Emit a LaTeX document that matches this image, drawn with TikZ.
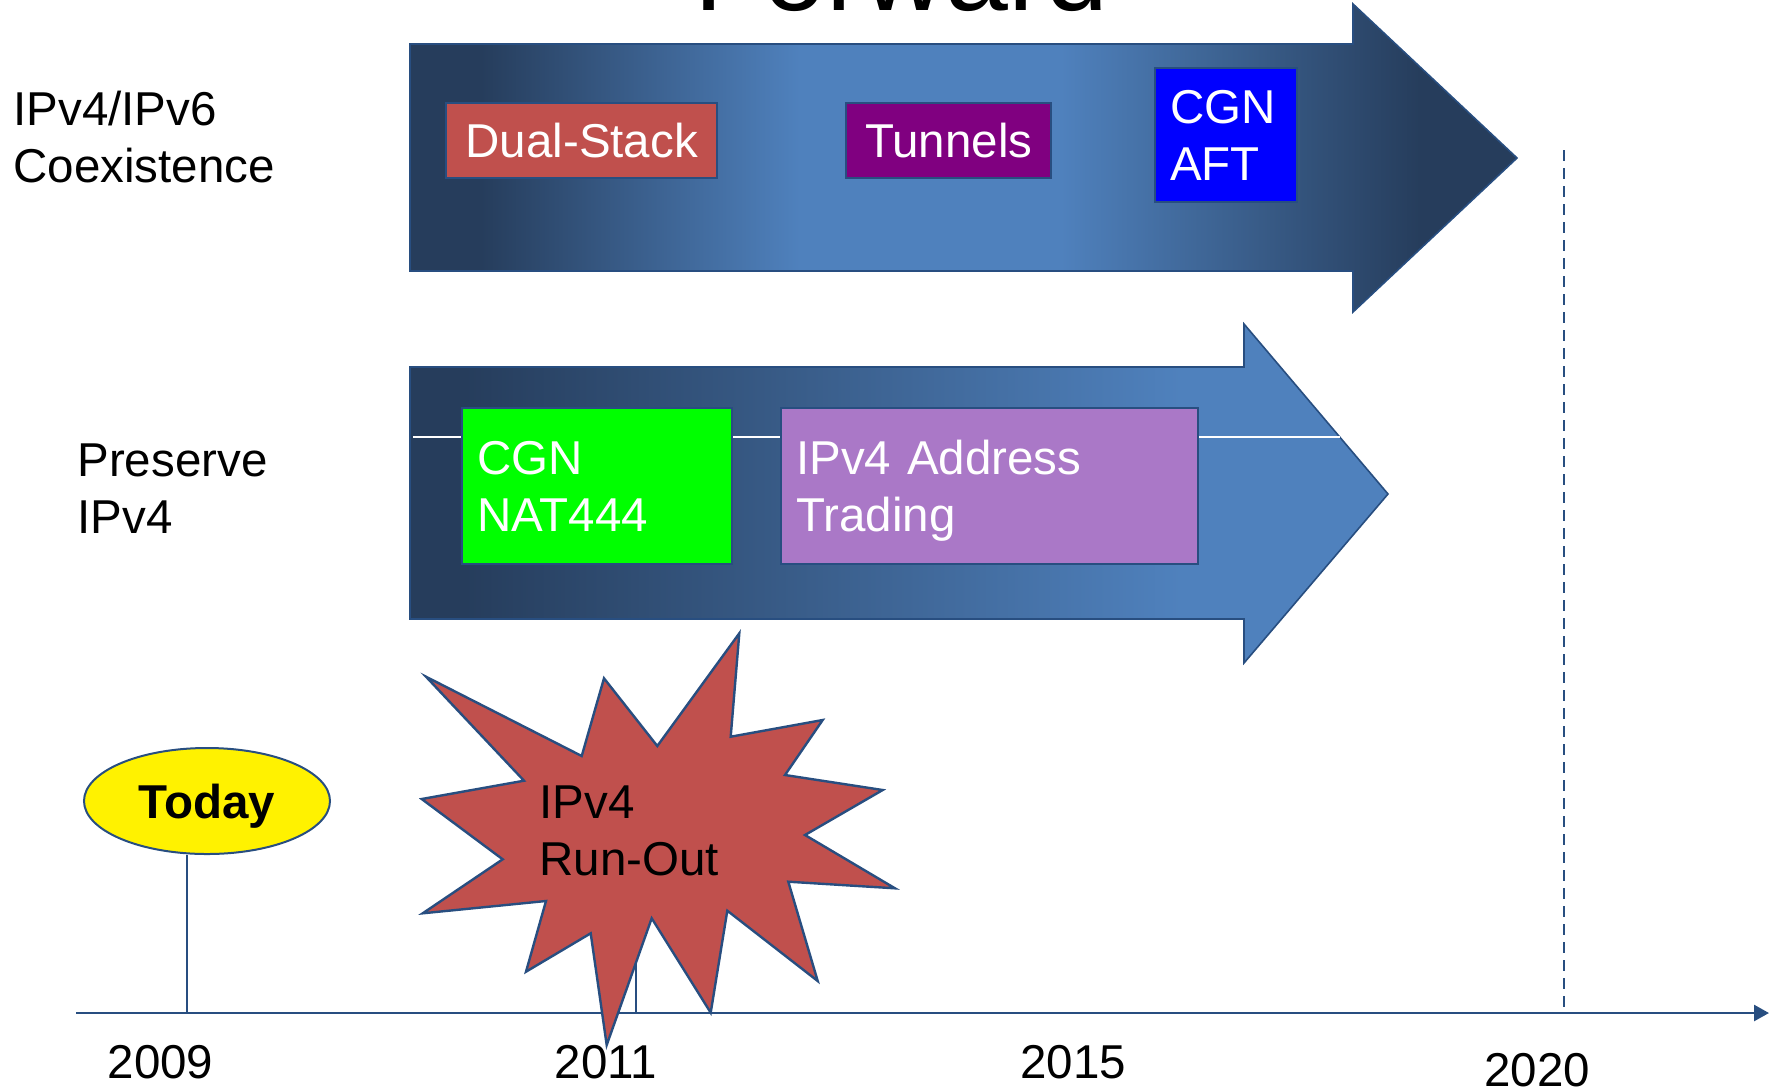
\documentclass[tikz,border=0pt]{standalone}
\usepackage{fontspec}
\setmainfont{Liberation Sans}
\usetikzlibrary{arrows.meta,shapes.geometric}
\definecolor{adark}{RGB}{38,61,92}
\definecolor{alight}{RGB}{79,129,189}
\definecolor{edge}{RGB}{40,78,128}
\definecolor{redbox}{RGB}{192,80,77}
\definecolor{purplebox}{RGB}{128,0,128}
\definecolor{bluebox}{RGB}{0,0,255}
\definecolor{greenbox}{RGB}{0,255,0}
\definecolor{lilacbox}{RGB}{170,120,199}
\pgfdeclarehorizontalshading{topshade}{100bp}{color(0bp)=(adark); color(25bp)=(adark); color(28.2bp)=(adark); color(42.6bp)=(alight); color(54.4bp)=(alight); color(70.6bp)=(adark); color(100bp)=(adark)}
\pgfdeclarehorizontalshading{midshade}{100bp}{color(0bp)=(adark); color(25bp)=(adark); color(27.8bp)=(adark); color(64.4bp)=(alight); color(100bp)=(alight)}
\tikzset{
  txt/.style={font=\fontsize{23.75}{28.5}\selectfont, inner sep=0pt},
  lbl/.style={txt, align=left, anchor=base west},
  year/.style={txt, anchor=base},
  boxnode/.style={draw=edge, line width=1.2pt, txt, text=white, anchor=north west,
    inner xsep=7.5pt, inner ysep=0pt},
  bigarrow/.style={draw=edge, line width=0.8pt, shade},
  axisline/.style={draw=edge, line width=1.3pt},
}
\begin{document}
\begin{tikzpicture}[x=0.5pt,y=-0.5pt]
\useasboundingbox (0,0) rectangle (1771,1088);
\clip (0,0) rectangle (1771,1088);

% timeline
\coordinate (axL) at (76,1013);
\coordinate (axR) at (1769,1013);
\draw[axisline, -{Triangle[length=7.5pt,width=8pt]}] (axL) -- (axR);
\coordinate (t09) at (187,1013);
\coordinate (t11top) at (636,930);
\coordinate (t11) at (636,1013);
\coordinate (d20top) at (1564,150);
\coordinate (d20) at (1564,1013);
\draw[axisline] (t11top) -- (t11);
\draw[axisline, dash pattern=on 5.5pt off 3.5pt] (d20top) -- (d20);

% big arrows
\path[bigarrow, shading=topshade] (410,44) -- (1353,44) -- (1353,4) -- (1517,158)
  -- (1353,312) -- (1353,271) -- (410,271) -- cycle;
\path[bigarrow, shading=midshade] (410,367) -- (1244,367) -- (1244,324) -- (1388,494)
  -- (1244,663) -- (1244,619) -- (410,619) -- cycle;
\coordinate (wl) at (413,437);
\coordinate (wr) at (1340,437);
\draw[white, line width=0.6pt] (wl) -- (wr);

% boxes
\node[boxnode, fill=redbox, minimum width=135.5pt, minimum height=37.5pt, text width=120.5pt, align=center] (dual) at (445,102) {Dual-Stack};
\node[boxnode, fill=purplebox, minimum width=102.5pt, minimum height=37.5pt, text width=87.5pt, align=center] (tunnels) at (845,102) {Tunnels};
\node[boxnode, fill=bluebox, minimum width=71pt, minimum height=67pt, text width=56pt, align=left] (aft) at (1154,67) {CGN\\AFT};
\node[boxnode, fill=greenbox, minimum width=135pt, minimum height=78pt, text width=120pt, align=left] (nat) at (461,407) {CGN\\NAT444};
\node[boxnode, fill=lilacbox, minimum width=208.5pt, minimum height=78pt, text width=193.5pt, align=left] (trading) at (780,407) {IPv4 Address\\\raisebox{0pt}[\height][0pt]{Trading}};

% left labels
\node[lbl] (coex) at (13,182) {IPv4/IPv6\\Coexistence};
\node[lbl] (pres) at (77,533) {Preserve\\IPv4};

% star
\draw[draw=edge, line width=1.2pt, fill=redbox]
  (426,676.7) -- (581.7,756) -- (604,678.3) -- (657.3,746) -- (739.3,633.3)
  -- (730.7,736.7) -- (822.7,720) -- (785,775) -- (882.7,790) -- (805,835)
  -- (895,888.3) -- (788.3,881.7) -- (817.7,981) -- (727.3,910.7) -- (710.7,1012.7)
  -- (651.7,918.3) -- (606.7,1045) -- (590.7,933.3) -- (526,971.7) -- (546,901)
  -- (422.7,913.3) -- (502.7,859.3) -- (421.7,799) -- (524,780.7) -- cycle;
\node[lbl] (runout) at (539,875) {IPv4\\Run-Out};

% today
\node[ellipse, draw=edge, line width=1pt, fill=yellow, minimum width=123pt, minimum height=53pt,
  inner sep=0pt, font=\fontsize{23.75}{28.5}\selectfont\bfseries, text depth=0pt] (today) at (207,801) {Today};
\draw[axisline] (t09) -- (today.south -| t09);

% years
\node[year] (y09) at (160.5,1078) {2009};
\node[year] (y11) at (606,1078) {2011};
\node[year] (y15) at (1073,1078) {2015};
\node[year] (y20) at (1537,1086) {2020};

% title (cut off)
\node[anchor=base west, inner sep=0pt, font=\fontsize{56.5}{60}\selectfont] (title) at (694,10) {Forward};
\end{tikzpicture}
\end{document}
